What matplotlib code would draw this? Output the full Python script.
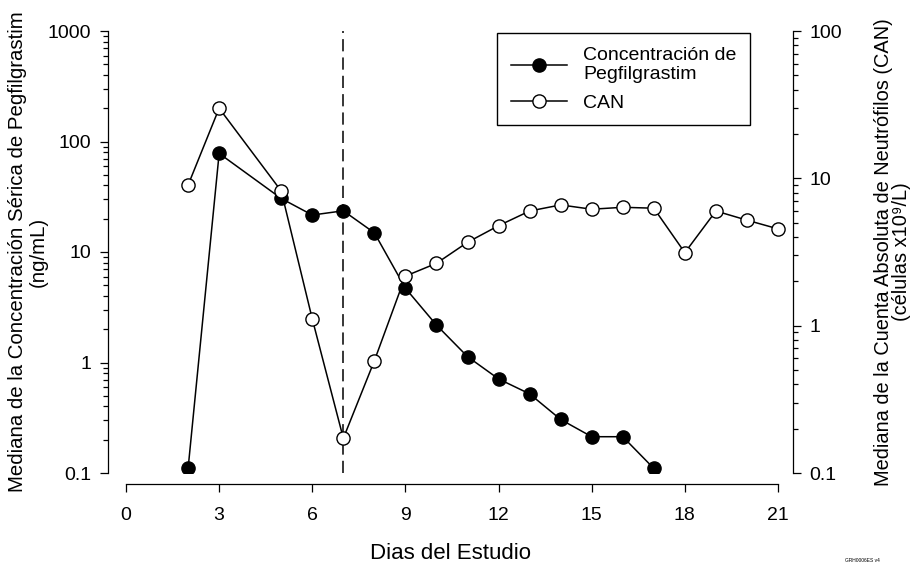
import numpy as np
import matplotlib.pyplot as plt
from matplotlib.ticker import LogLocator, FixedLocator, FuncFormatter, NullFormatter

plt.rcParams['font.family'] = ['Liberation Sans', 'DejaVu Sans']

# data
peg_days = [2, 3, 5, 6, 7, 8, 9, 10, 11, 12, 13, 14, 15, 16, 17]
peg_conc = [0.11, 78, 30.5, 21.6, 23.6, 14.9, 4.7, 2.18, 1.13, 0.71, 0.52, 0.305, 0.213, 0.213, 0.11]

can_days = [2, 3, 5, 6, 7, 8, 9, 10, 11, 12, 13, 14, 15, 16, 17, 18, 19, 20, 21]
can_vals = [9.0, 29.9, 8.2, 1.11, 0.172, 0.578, 2.17, 2.65, 3.68, 4.77, 6.0, 6.6, 6.17, 6.36, 6.27, 3.13, 6.0, 5.2, 4.54]

dosing_day = 7
x_ticks = [0, 3, 6, 9, 12, 15, 18, 21]


def fmt_log(v, pos):
    return '{:g}'.format(v)


def main():
    W, H = 912, 565
    fig = plt.figure(figsize=(W / 100, H / 100), dpi=100)
    ax = fig.add_axes([108 / W, 1 - 473 / H, (793 - 108) / W, (473 - 31) / H])

    ax.set_yscale('log')
    ax.set_ylim(0.1, 1000)
    ppd = (778 - 126) / 21.0
    ax.set_xlim(-(126 - 108) / ppd, 21 + (793 - 778) / ppd)

    l1, = ax.plot(peg_days, peg_conc, color='black', lw=1.1, marker='o', ms=9.5,
                  mfc='black', mec='black', label='Concentración de\nPegfilgrastim', zorder=3)
    ax.axvline(dosing_day, color='black', lw=1.1, dashes=(8, 4), zorder=1)

    ax2 = ax.twinx()
    ax2.set_yscale('log')
    ax2.set_ylim(0.1, 100)
    l2, = ax2.plot(can_days, can_vals, color='black', lw=1.1, marker='o', ms=9.5,
                   mfc='white', mec='black', mew=1.0, label='CAN', zorder=3)

    for a in (ax, ax2):
        a.spines['top'].set_visible(False)
        a.yaxis.set_major_locator(LogLocator(base=10, numticks=10))
        a.yaxis.set_minor_locator(LogLocator(base=10, subs=np.arange(2, 10), numticks=10))
        a.yaxis.set_major_formatter(FuncFormatter(fmt_log))
        a.yaxis.set_minor_formatter(NullFormatter())
        a.tick_params(axis='y', which='major', length=5.5, width=0.9, labelsize=14,
                      direction='out', pad=6.5)
        a.tick_params(axis='y', which='minor', length=3.5, width=0.9, direction='out')

    ax.spines['right'].set_visible(False)
    ax2.spines['left'].set_visible(False)
    ax2.spines['bottom'].set_visible(False)
    ax2.spines['right'].set_linewidth(0.9)
    ax.spines['left'].set_linewidth(0.9)

    ax.spines['bottom'].set_position(('outward', 8))
    ax.spines['bottom'].set_bounds(0, 21)
    ax.spines['bottom'].set_linewidth(0.9)
    ax.xaxis.set_major_locator(FixedLocator(x_ticks))
    ax.tick_params(axis='x', length=5.5, width=0.9, labelsize=14, pad=11)

    ax.set_xlabel('Dias del Estudio', fontsize=16, labelpad=14)
    ax.set_ylabel('Mediana de la Concentración Sérica de Pegfilgrastim\n(ng/mL)',
                  fontsize=14.7, linespacing=1.15, labelpad=0)
    ax2.set_ylabel('Mediana de la Cuenta Absoluta de Neutrófilos (CAN)\n(células x10⁹/L)',
                   fontsize=14.4, linespacing=0.92, labelpad=23)

    leg = ax2.legend(handles=[l1, l2], loc='upper right',
                     bbox_to_anchor=(750 / W, 1 - 33 / H), bbox_transform=fig.transFigure,
                     fontsize=14, fancybox=False, edgecolor='black', framealpha=1,
                     handlelength=2.9, borderpad=0.7, labelspacing=0.55, handletextpad=0.8,
                     borderaxespad=0)
    leg.get_frame().set_linewidth(1.0)

    fig.text(862 / W, 1 - 561 / H, 'GRH0006ES v4', fontsize=3.5, ha='center', va='center')

    fig.savefig('out.png', dpi=100)


if __name__ == "__main__":
    main()
